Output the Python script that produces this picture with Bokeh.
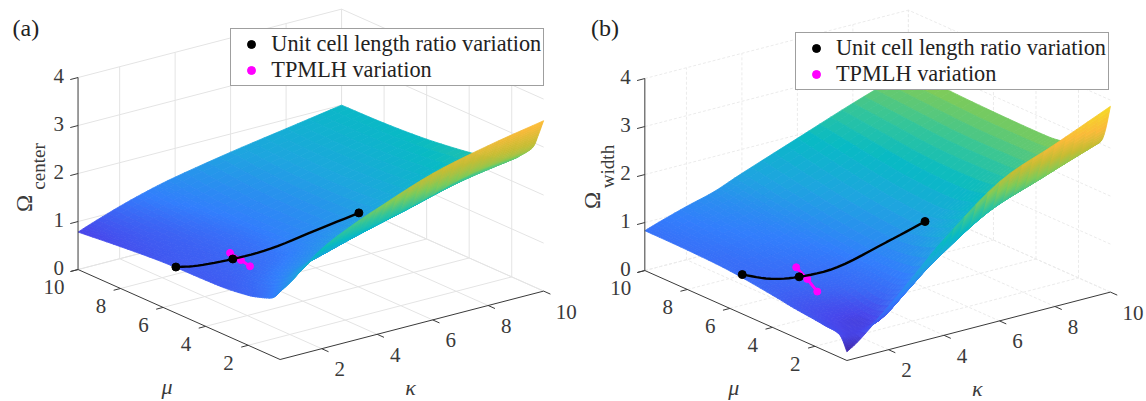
import numpy as np
from bokeh.core.properties import value
from bokeh.embed import file_html
from bokeh.models import ColumnDataSource, Legend, LegendItem, Range1d
from bokeh.plotting import figure
from bokeh.resources import INLINE

# ---------- data ----------
kappa_nodes = [0.5, 1, 2, 3, 4, 6, 8, 10]
mu_nodes = [0.5, 0.75, 1, 1.5, 2, 3, 4, 6, 8, 10]

# one row per kappa node, one column per mu node
omega_center = [
    [1.42, 1.26, 1.18, 1.10, 1.04, 0.98, 0.96, 0.94, 0.87, 0.78],
    [1.62, 1.46, 1.35, 1.20, 1.12, 1.03, 0.99, 0.97, 0.93, 0.89],
    [2.08, 1.88, 1.74, 1.50, 1.33, 1.15, 1.07, 1.03, 1.03, 1.09],
    [2.38, 2.14, 1.95, 1.68, 1.50, 1.28, 1.17, 1.12, 1.17, 1.26],
    [2.62, 2.35, 2.12, 1.85, 1.67, 1.44, 1.32, 1.26, 1.30, 1.40],
    [3.05, 2.72, 2.42, 2.17, 1.95, 1.72, 1.55, 1.50, 1.53, 1.62],
    [3.33, 3.02, 2.74, 2.50, 2.25, 2.03, 1.88, 1.80, 1.78, 1.81],
    [3.55, 3.20, 2.90, 2.65, 2.46, 2.30, 2.20, 2.08, 2.02, 2.00],
]
omega_width = [
    [0.18, 0.42, 0.50, 0.52, 0.55, 0.60, 0.67, 0.78, 0.82, 0.83],
    [0.38, 0.42, 0.42, 0.44, 0.47, 0.55, 0.65, 0.77, 0.86, 0.93],
    [0.90, 0.66, 0.50, 0.43, 0.45, 0.60, 0.72, 0.88, 1.00, 1.11],
    [1.45, 1.15, 0.95, 0.80, 0.72, 0.80, 0.85, 1.00, 1.13, 1.27],
    [2.00, 1.66, 1.42, 1.25, 1.14, 1.08, 1.10, 1.20, 1.35, 1.50],
    [2.90, 2.45, 2.18, 1.98, 1.85, 1.62, 1.52, 1.60, 1.75, 1.93],
    [3.38, 2.95, 2.62, 2.42, 2.32, 2.22, 2.20, 2.20, 2.28, 2.36],
    [3.87, 3.30, 3.02, 2.90, 2.80, 2.68, 2.66, 2.67, 2.70, 2.75],
]

ratio_kappa_a = [0.5, 1.0, 2.0, 3.2, 4.6, 6.0]
ratio_mu_a = [5.40, 5.02, 4.68, 4.47, 4.20, 3.97]
ratio_omega_a = [0.96, 0.99, 1.045, 1.12, 1.34, 1.545]
ratio_dots_a = [0, 2, 5]
tpmlh_kappa_a = [2, 2, 2]
tpmlh_mu_a = [4.81, 4.30, 3.87]
tpmlh_omega_a = [1.145, 1.098, 1.052]

ratio_kappa_b = [0.5, 1.1, 2.0, 3.2, 4.8, 6.0]
ratio_mu_b = [5.42, 4.87, 4.70, 4.47, 4.25, 4.00]
ratio_omega_b = [0.82, 0.75, 0.69, 0.756, 1.08, 1.38]
ratio_dots_b = [0, 2, 5]
tpmlh_kappa_b = [2, 2, 2]
tpmlh_mu_b = [4.84, 4.32, 3.85]
tpmlh_omega_b = [0.86, 0.72, 0.55]

kappa_ticks = [2, 4, 6, 8, 10]
mu_ticks = [2, 4, 6, 8, 10]
omega_ticks = [0, 1, 2, 3, 4]
legend_labels = ["Unit cell length ratio variation", "TPMLH variation"]

parula_t = [0, .1, .2, .3, .4, .5, .6, .7, .8, .9, 1]
parula_hex = ["#3E26A8", "#4746EB", "#327EFC", "#1EA5DF", "#08BAC4", "#33C59A",
              "#80CB58", "#C6BD34", "#FABA39", "#F5DA26", "#F9FB15"]
shade_z_a = [0.40, 2.00, 2.85, 3.55]
shade_t_a = [0.00, 0.39, 0.66, 0.82]
shade_z_b = [0.18, 0.45, 0.70, 1.00, 1.50, 1.95, 2.75, 3.39, 3.87]
shade_t_b = [0.00, 0.10, 0.16, 0.20, 0.30, 0.40, 0.62, 0.80, 0.90]

FONT = value("Liberation Serif")
INK = "#3a3a3a"


def rgb(h):
    return [int(h[i:i + 2], 16) for i in (1, 3, 5)]


PAR = np.array([rgb(h) for h in parula_hex], float)


def colour(z, shade_z, shade_t):
    t = float(np.interp(z, shade_z, shade_t))
    c = [np.interp(t, parula_t, PAR[:, i]) for i in range(3)]
    return "#%02x%02x%02x" % tuple(int(round(v)) for v in c)


def smooth(a, n):
    """shading refinement of a node array along its first axis"""
    a = np.asarray(a, float)
    pad = np.concatenate([[2 * a[0] - a[1]], a, [2 * a[-1] - a[-2]]])
    out = []
    for i in range(1, len(pad) - 2):
        for s in np.arange(n) / n:
            p0, p1, p2, p3 = pad[i - 1], pad[i], pad[i + 1], pad[i + 2]
            out.append(0.5 * (2 * p1 + (p2 - p0) * s + (2 * p0 - 5 * p1 + 4 * p2 - p3) * s * s
                              + (3 * p1 - p0 - 3 * p2 + p3) * s ** 3))
    out.append(a[-1])
    return np.array(out)


W, H = 1146, 401
p = figure(width=W, height=H, output_backend="svg", toolbar_location=None,
           x_range=Range1d(0, W), y_range=Range1d(H, 0),
           x_axis_location=None, y_axis_location=None, min_border=0,
           outline_line_color=None, background_fill_color="white", border_fill_color="white")
p.grid.grid_line_color = None


def panel(dx, dy, omega, shade_z, shade_t, r_k, r_m, r_o, r_d, t_k, t_m, t_o, letter, sub, sub_xy, om_xy,
          letter_x, leg_x, leg_top, grid_color, grid_dash):

    def P(k, m, z):
        k, m, z = np.asarray(k, float), np.asarray(m, float), np.asarray(z, float)
        x = 279.6 + 27.74 * (k - .5) - 21.27 * (m - .5) + dx
        y = 359 - 7.2 * (k - .5) - 9.47 * (m - .5) - 48 * z + dy
        return x, y

    def seg(k, m, z, color=INK, w=1.0, dash="solid"):
        x, y = P(k, m, z)
        p.line(list(x), list(y), line_color=color, line_width=w, line_dash=dash)

    def gridline(k, m, z):
        seg(k, m, z, grid_color, 1.0, grid_dash)

    # walls and floor
    for k in kappa_ticks:
        gridline([k, k], [10, 10], [0, 4])
        gridline([k, k], [.5, 10], [0, 0])
    for m in mu_ticks:
        gridline([10, 10], [m, m], [0, 4])
        gridline([.5, 10], [m, m], [0, 0])
    for z in omega_ticks:
        gridline([.5, 10], [10, 10], [z, z])
        gridline([10, 10], [.5, 10], [z, z])

    # surface, far cells first
    ks = smooth(kappa_nodes, 5)
    ms = smooth(mu_nodes, 6)
    Z = np.array([smooth(r, 6) for r in omega])
    Z = np.array([smooth(Z[:, j], 5) for j in range(Z.shape[1])]).T
    xs, ys, cs = [], [], []
    for i in range(len(ks) - 2, -1, -1):
        for j in range(len(ms) - 2, -1, -1):
            kk = [ks[i], ks[i + 1], ks[i + 1], ks[i]]
            mm = [ms[j], ms[j], ms[j + 1], ms[j + 1]]
            zz = [Z[i, j], Z[i + 1, j], Z[i + 1, j + 1], Z[i, j + 1]]
            x, y = P(kk, mm, zz)
            xs.append(list(x))
            ys.append(list(y))
            cs.append(colour(float(np.mean(zz)), shade_z, shade_t))
    p.patches("xs", "ys", source=ColumnDataSource(dict(xs=xs, ys=ys, c=cs)),
              fill_color="c", line_color="c", line_width=0.8)

    # axes
    seg([.5, .5], [10, 10], [0, 4])
    seg([.5, .5], [.5, 10], [0, 0])
    seg([.5, 10], [.5, .5], [0, 0])
    for z in omega_ticks:
        seg([.5, .22], [10, 10], [z, z])
    for m in mu_ticks:
        seg([.5, .25], [m, m], [0, 0])
    for k in kappa_ticks:
        seg([k, k], [.5, .18], [0, 0])

    def label(x, y, txt, size, angle=0.0, style="normal", align="center"):
        p.text([x], [y], text=[txt], text_font=FONT, text_font_size=size,
               text_color=INK if txt[0] != "(" else "#222222",
               text_align=align, text_baseline="middle", angle=angle, text_font_style=style)

    for z in omega_ticks:
        x, y = P(.5, 10, z)
        label(float(x) - 19.4, float(y) - 2, str(z), "21px")
    for m in mu_ticks:
        x, y = P(.5, m, 0)
        label(float(x) - (24 if m == 10 else 19.7), float(y) + 17.6, str(m), "21px")
    for k in kappa_ticks:
        x, y = P(k, .5, 0)
        label(float(x) + (22.6 if k == 10 else 18), float(y) + 20.5, str(k), "21px")
    label(166.5 + dx, 386 + dy, "\u03bc", "22px", style="italic")
    label(410 + dx, 387 + dy, "\u03ba", "22px", style="italic")
    label(om_xy[0], om_xy[1], "\u03a9", "23px", angle=np.pi / 2)
    label(sub_xy[0], sub_xy[1], sub, "19px", angle=np.pi / 2)
    label(letter_x, 27, letter, "24px", align="left")

    # curves
    x, y = P(t_k, t_m, t_o)
    p.line(list(x), list(y), line_color="#ff00ff", line_width=3)
    rm = p.scatter(list(x), list(y), size=7, fill_color="#ff00ff", line_color="#ff00ff")
    x, y = P(r_k, r_m, r_o)
    kk = smooth(r_k, 6); mm = smooth(r_m, 6); oo = smooth(r_o, 6)
    cx, cy = P(kk, mm, oo)
    p.line(list(cx), list(cy), line_color="black", line_width=2.4)
    rb = p.scatter([float(x[i]) for i in r_d], [float(y[i]) for i in r_d], size=8,
                   fill_color="black", line_color="black")

    leg = Legend(items=[LegendItem(label=legend_labels[0], renderers=[rb]),
                        LegendItem(label=legend_labels[1], renderers=[rm])],
                 location=(leg_x, H - (leg_top + 56)),
                 padding=2, margin=0, spacing=0, glyph_width=36, glyph_height=20,
                 label_standoff=2, label_text_font="Liberation Serif", label_text_font_size="22.3px",
                 label_text_color="#222222", border_line_color="#404040", border_line_width=1,
                 background_fill_color="white", background_fill_alpha=1.0)
    p.add_layout(leg)


panel(0, 0, omega_center, shade_z_a, shade_t_a, ratio_kappa_a, ratio_mu_a, ratio_omega_a, ratio_dots_a,
      tpmlh_kappa_a, tpmlh_mu_a, tpmlh_omega_a, "(a)", "center", (38.4, 166), (24, 203), 12, 230.3, 29.5,
      "#e4e4e4", "solid")
panel(566.8, 1, omega_width, shade_z_b, shade_t_b, ratio_kappa_b, ratio_mu_b, ratio_omega_b, ratio_dots_b,
      tpmlh_kappa_b, tpmlh_mu_b, tpmlh_omega_b, "(b)", "width", (606.7, 166), (592, 200), 590.5, 795, 33.5,
      "#ebebeb", "3 2")

open("out.html", "w").write(file_html(p, INLINE))
